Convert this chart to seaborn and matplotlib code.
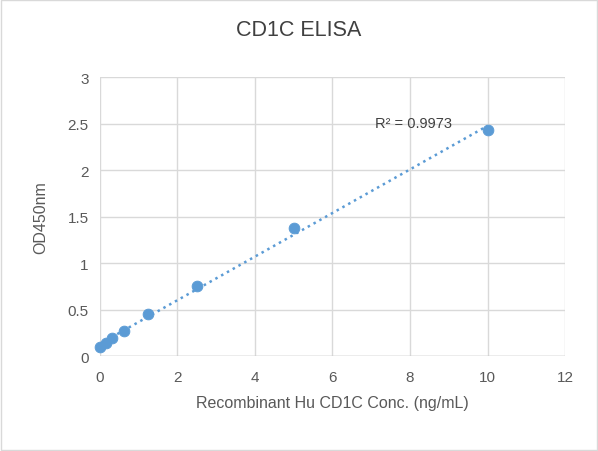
import numpy as np
import pandas as pd
import seaborn as sns
import matplotlib.pyplot as plt

# Standard curve data
conc = [0, 0.156, 0.3125, 0.625, 1.25, 2.5, 5, 10]
od450 = [0.10, 0.14, 0.19, 0.27, 0.45, 0.75, 1.38, 2.43]
x_ticks = [0, 2, 4, 6, 8, 10, 12]
y_ticks = [0, 0.5, 1, 1.5, 2, 2.5, 3]

df = pd.DataFrame({'conc': conc, 'od': od450})

sns.set_style('white')
plt.rcParams['font.family'] = ['Liberation Sans', 'DejaVu Sans']

fig = plt.figure(figsize=(5.98, 4.52), dpi=100)
ax = fig.add_axes([0.167, 0.21, 0.778, 0.617])

blue = '#5B9BD5'
sns.scatterplot(data=df, x='conc', y='od', color=blue, s=60, edgecolor=blue, ax=ax, zorder=3,
                clip_on=False)

# linear trendline
slope, icpt = np.polyfit(df['conc'], df['od'], 1)
xs = np.array([0, 10])
ax.plot(xs, slope * xs + icpt, linestyle=':', color=blue, linewidth=1.8, zorder=2)
ax.text(7.1, 2.46, 'R² = 0.9973', fontsize=10.5, color='#404040')

ax.set_xlim(0, 12)
ax.set_ylim(0, 3)
ax.set_xticks(x_ticks)
ax.set_xticklabels([str(t) for t in x_ticks])
ax.set_yticks(y_ticks)
ax.set_yticklabels(['0', '0.5', '1', '1.5', '2', '2.5', '3'])
ax.grid(True, color='#D9D9D9', linewidth=1)
for s in ax.spines.values():
    s.set_visible(False)
ax.axhline(0, color='#BFBFBF', linewidth=1)
ax.tick_params(colors='#595959', labelsize=11, length=0)
ax.tick_params(axis='x', pad=10)
ax.tick_params(axis='y', pad=8)
ax.set_xlabel('Recombinant Hu CD1C Conc. (ng/mL)', fontsize=11.5, color='#595959', labelpad=8)
ax.set_ylabel('OD450nm', fontsize=11.5, color='#595959', labelpad=14)
fig.text(0.5, 0.92, 'CD1C ELISA', ha='center', fontsize=15.5, color='#404040')
fig.patches.append(plt.Rectangle((0.002, 0.002), 0.996, 0.996, transform=fig.transFigure,
                                 fill=False, edgecolor='#D9D9D9', linewidth=1))

plt.savefig('out.png', dpi=100)
